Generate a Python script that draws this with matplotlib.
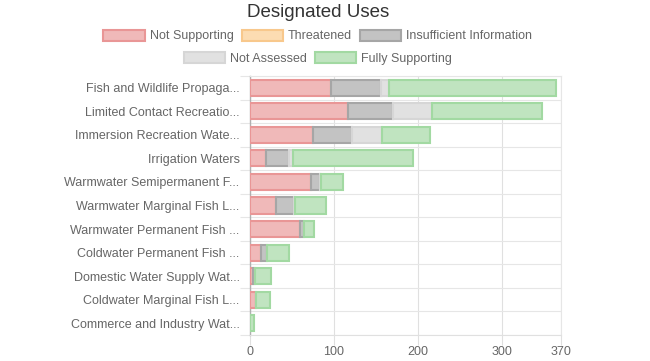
import matplotlib
matplotlib.use("Agg")
import matplotlib.pyplot as plt
import numpy as np
from matplotlib.patches import Patch

categories = [
    "Fish and Wildlife Propaga...",
    "Limited Contact Recreatio...",
    "Immersion Recreation Wate...",
    "Irrigation Waters",
    "Warmwater Semipermanent F...",
    "Warmwater Marginal Fish L...",
    "Warmwater Permanent Fish ...",
    "Coldwater Permanent Fish ...",
    "Domestic Water Supply Wat...",
    "Coldwater Marginal Fish L...",
    "Commerce and Industry Wat...",
]
not_supporting = [96, 117, 75, 19, 73, 31, 59, 13, 3, 7, 0]
threatened = [0, 0, 0, 0, 0, 0, 0, 0, 0, 0, 0]
insufficient = [60, 53, 46, 28, 10, 21, 5, 7, 3, 0, 0]
not_assessed = [9, 46, 36, 4, 2, 2, 0, 0, 0, 0, 0]
fully_supporting = [199, 131, 57, 143, 26, 37, 12, 26, 19, 17, 5]

series_names = ["Not Supporting", "Threatened", "Insufficient Information",
                "Not Assessed", "Fully Supporting"]
x_ticks = [0, 100, 200, 300, 370]

fills = ["#f0b9b9", "#fcdcb2", "#c3c3c3", "#e1e1e1", "#c0e4c0"]
edges = ["#e99696", "#f8c88c", "#a6a6a6", "#d6d6d6", "#a2d9a2"]

plt.rcParams["font.family"] = ["Liberation Sans", "DejaVu Sans"]
fig = plt.figure(figsize=(6.5, 3.61), dpi=100)
ax = fig.add_axes([0.3846, 0.072, 0.4785, 0.7175])

series = [not_supporting, threatened, insufficient, not_assessed, fully_supporting]
y = np.arange(len(categories))
left = np.zeros(len(categories))
for vals, fc, ec in zip(series, fills, edges):
    v = np.array(vals, dtype=float)
    ax.barh(y, v, left=left, height=0.68, color=fc, edgecolor=ec, linewidth=1.5, zorder=3)
    left += v

ax.set_xlim(0, 370)
ax.set_ylim(len(categories) - 0.5, -0.5)
ax.set_yticks(y)
ax.set_yticklabels(categories, fontsize=9, color="#666666")
ax.set_yticks(np.arange(-0.5, len(categories), 1), minor=True)
ax.tick_params(axis="y", which="major", length=0, pad=7.5)
ax.tick_params(axis="y", which="minor", length=7.5, color="#e6e6e6", width=0.8)
ax.grid(axis="y", which="minor", color="#e6e6e6", linewidth=0.8, zorder=0)

ax.set_xticks(x_ticks)
ax.set_xticklabels([str(t) for t in x_ticks], fontsize=9, color="#666666")
ax.tick_params(axis="x", length=7, color="#e0e0e0", width=0.8, pad=1)
ax.grid(axis="x", color="#e0e0e0", linewidth=0.8, zorder=0)
ax.set_xlabel("Count", fontsize=9, color="#666666", labelpad=2)

for s in ["top", "right"]:
    ax.spines[s].set_color("#e6e6e6")
    ax.spines[s].set_linewidth(0.8)
ax.spines["bottom"].set_color("#e0e0e0")
ax.spines["bottom"].set_linewidth(0.8)
ax.spines["left"].set_color("#b0b0b0")
ax.spines["left"].set_linewidth(1.0)

fig.text(0.489, 0.966, "Designated Uses", ha="center", va="center",
         fontsize=13.5, color="#333333")

handles = [Patch(facecolor=fc, edgecolor=ec, linewidth=1.5) for fc, ec in zip(fills, edges)]
leg_kw = dict(loc="center", frameon=False, fontsize=9, handlelength=3.3, handleheight=0.95,
              handletextpad=0.4, columnspacing=0.65, labelcolor="#666666")
fig.legend(handles[:3], series_names[:3], bbox_to_anchor=(0.489, 0.9), ncol=3, **leg_kw)
fig.legend(handles[3:], series_names[3:], bbox_to_anchor=(0.489, 0.837), ncol=2, **leg_kw)

fig.savefig("out.png", dpi=100)
